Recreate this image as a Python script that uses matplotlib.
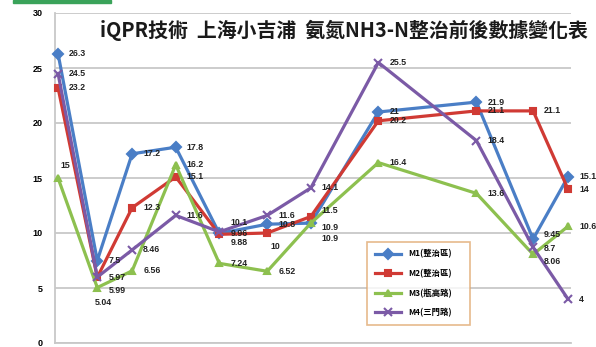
"""
iQPR 上海小吉浦 氨氮 整治前後數據.
"""
import matplotlib
matplotlib.use("Agg")
import matplotlib.pyplot as plt
from matplotlib.patches import Rectangle

plt.rcParams['font.family'] = ['Noto Sans CJK TC', 'DejaVu Sans']

TITLE = "iQPR技術  上海小吉浦  氨氮NH3-N整治前後數據變化表"

# 採樣時間(相對天數)
sample_day = [0, 9, 17, 27, 37, 48, 58, 73.5, 96, 109, 117]

series_names = ["M1(整治區)", "M2(整治區)", "M3(瓶高路)", "M4(三門路)"]
m1 = [26.3, 7.5, 17.2, 17.8, 9.96, 10.8, 10.9, 21, 21.9, 9.45, 15.1]
m2 = [23.2, 5.97, 12.3, 15.1, 9.88, 10, 11.5, 20.2, 21.1, 21.1, 14]
m3 = [15, 5.04, 6.56, 16.2, 7.24, 6.52, 10.9, 16.4, 13.6, 8.06, 10.6]
m4 = [24.5, 5.99, 8.46, 11.6, 10.1, 11.6, 14.1, 25.5, 18.4, 8.7, 4]
y_ticks = [0, 5, 10, 15, 20, 25, 30]

colors = ["#4a7ec6", "#d03a34", "#8dc04f", "#7b5aa6"]
markers = ["D", "s", "^", "x"]

# 個別標籤位置調整 (series, point) -> offset in points
label_offsets = {
    (2, 0): (2, 9),
    (2, 1): (-2, -11),
    (3, 1): (8, -10),
    (3, 4): (8, 7),
    (1, 4): (8, -6),
    (1, 5): (2, -10),
    (1, 6): (8, 4),
    (0, 6): (8, -3),
    (2, 6): (8, -11),
    (0, 9): (8, 3),
    (3, 9): (8, -1),
    (2, 9): (8, -5),
}


def main():
    fig = plt.figure(figsize=(5.96, 3.47), dpi=100)
    W, H = 596, 347
    ax = fig.add_axes([55 / W, 4 / H, 516 / W, 330 / H])

    data = [m1, m2, m3, m4]
    for i, vals in enumerate(data):
        ax.plot(sample_day, vals, color=colors[i], marker=markers[i],
                markersize=5 if markers[i] != "x" else 6,
                markeredgewidth=1.5, linewidth=2.3, label=series_names[i],
                zorder=3, clip_on=False)
        for j, v in enumerate(vals):
            dx, dy = label_offsets.get((i, j), (8, 0))
            ax.annotate(f"{v:g}", (sample_day[j], v), xytext=(dx, dy),
                        textcoords="offset points", ha="left", va="center",
                        fontsize=6.3, fontweight="bold", color="#222222",
                        family=["Liberation Sans", "DejaVu Sans"],
                        annotation_clip=False, zorder=4)

    ax.set_xlim(-0.7, 117.7)
    ax.set_ylim(0, 30)
    ax.set_yticks(y_ticks)
    ax.set_xticks([])
    ax.tick_params(axis="y", length=0, pad=9, labelsize=6.5)
    for lab in ax.get_yticklabels():
        lab.set_fontweight("bold")
        lab.set_family(["Liberation Sans", "DejaVu Sans"])
    ax.grid(axis="y", color="#c8c8c8", linewidth=1.3, zorder=0)
    for side in ["top", "right"]:
        ax.spines[side].set_visible(False)
    ax.spines["left"].set_color("#c8c8c8")
    ax.spines["bottom"].set_color("#c8c8c8")
    ax.spines["left"].set_linewidth(1.3)
    ax.spines["bottom"].set_linewidth(1.3)

    fig.text(100 / W, 1 - 30 / H, TITLE, fontsize=14.3, fontweight="bold",
             color="#1a1a1a", ha="left", va="center")

    leg = ax.legend(loc="upper left",
                    bbox_to_anchor=(363 / W, 1 - 318 / H, 111 / W, 80 / H),
                    bbox_transform=fig.transFigure, mode="expand",
                    fontsize=6, frameon=True, fancybox=False,
                    labelspacing=1.25, handlelength=3.2, borderpad=0.9)
    leg.get_frame().set_edgecolor("#e0a870")
    leg.get_frame().set_linewidth(1.2)
    leg.set_zorder(5)
    for t in leg.get_texts():
        t.set_fontweight("bold")

    fig.patches.append(Rectangle((13 / W, 1 - 3 / H), 98 / W, 3 / H,
                                 transform=fig.transFigure,
                                 color="#3aa35a", zorder=5))

    fig.savefig("out.png", dpi=100)


if __name__ == '__main__':
    main()
